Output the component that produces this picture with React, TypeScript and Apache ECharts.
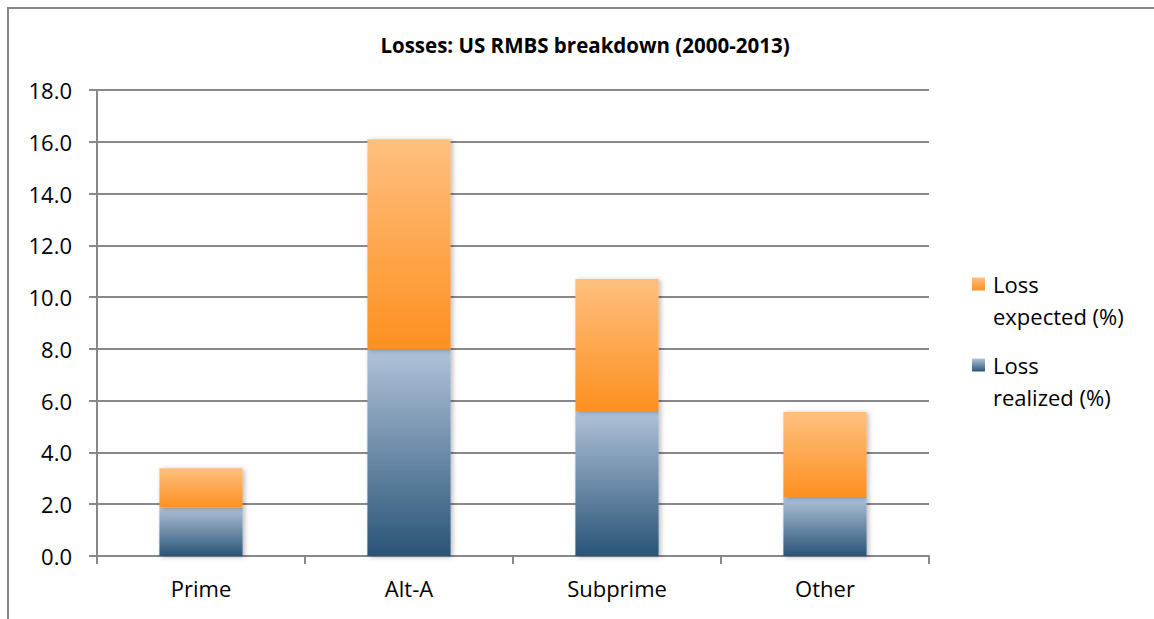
import React, { useEffect, useRef } from "react";
import * as echarts from "echarts";

const categories = ["Prime", "Alt-A", "Subprime", "Other"];
const lossRealized = [1.87, 7.98, 5.6, 2.28];
const lossExpected = [1.52, 8.12, 5.1, 3.28];
const seriesNames = ["Loss realized (%)", "Loss expected (%)"];
const titleText = "Losses: US RMBS breakdown (2000-2013)";

const FONT = "'Open Sans', 'DejaVu Sans', sans-serif";

export default function App() {
  const ref = useRef<HTMLDivElement>(null);
  useEffect(() => {
    if (!ref.current) return;
    const chart = echarts.init(ref.current, undefined, { renderer: "svg" });
    const grad = (top: string, bottom: string, end = 1) =>
      new echarts.graphic.LinearGradient(0, 0, 0, 1, [
        { offset: 0, color: top },
        { offset: end, color: bottom },
        { offset: 1, color: bottom },
      ]);
    const shadow = {
      shadowBlur: 5,
      shadowColor: "rgba(0,0,0,0.28)",
      shadowOffsetX: 2,
      shadowOffsetY: 1,
    };
    const orangeTop = "#fec07f";
    const orangeBottom = "#fd9020";
    const blueTop = "#b0c3d8";
    const blueBottom = "#2a5477";
    // square at top of a taller box so the icon lines up with the first text line
    const iconH = 45;
    const iconFrac = 13 / iconH;
    const legendIcon = `path://M0,0L1,0L1,1L0,1Z M0,${(iconH / 13).toFixed(3)}`;
    chart.setOption({
      animation: false,
      backgroundColor: "#ffffff",
      textStyle: { fontFamily: FONT },
      title: {
        text: titleText,
        left: 580,
        textAlign: "center",
        top: 29,
        textStyle: { fontFamily: FONT, fontSize: 20.5, fontWeight: "bold", color: "#000" },
      },
      grid: { left: 97, right: 225, top: 90, bottom: 63, containLabel: false },
      legend: {
        orient: "vertical",
        left: 967,
        top: 263,
        data: [
          {
            name: seriesNames[1],
            icon: legendIcon,
            itemStyle: { color: grad(orangeTop, orangeBottom, iconFrac) },
          },
          {
            name: seriesNames[0],
            icon: legendIcon,
            itemStyle: { color: grad(blueTop, blueBottom, iconFrac) },
          },
        ],
        itemWidth: 13,
        itemHeight: iconH,
        itemGap: 17,
        formatter: (n: string) => n.replace(" ", "\n"),
        textStyle: {
          fontFamily: FONT,
          fontSize: 22,
          color: "#000",
          lineHeight: 32,
          padding: [0, 0, 0, 3],
        },
      },
      xAxis: {
        type: "category",
        data: categories,
        axisLine: { lineStyle: { color: "#888", width: 2 } },
        axisTick: { show: true, length: 8, lineStyle: { color: "#888", width: 2 } },
        axisLabel: { fontFamily: FONT, fontSize: 22, color: "#000", margin: 21 },
      },
      yAxis: {
        type: "value",
        min: 0,
        max: 18,
        interval: 2,
        axisLine: { show: true, lineStyle: { color: "#888", width: 2 } },
        axisTick: { show: true, length: 8, lineStyle: { color: "#888", width: 2 } },
        splitLine: { lineStyle: { color: "#888", width: 2 } },
        axisLabel: {
          fontFamily: FONT,
          fontSize: 22,
          color: "#000",
          margin: 25,
          formatter: (v: number) => v.toFixed(1),
        },
      },
      series: [
        {
          name: seriesNames[0],
          type: "bar",
          stack: "loss",
          barWidth: "40%",
          data: lossRealized,
          itemStyle: { color: grad(blueTop, blueBottom), ...shadow },
        },
        {
          name: seriesNames[1],
          type: "bar",
          stack: "loss",
          barWidth: "40%",
          data: lossExpected,
          itemStyle: { color: grad(orangeTop, orangeBottom), ...shadow },
        },
      ],
      graphic: [
        {
          type: "rect",
          shape: { x: 8, y: 8, width: 1400, height: 900 },
          style: { fill: "none", stroke: "#888", lineWidth: 2 },
          silent: true,
          z: 100,
        },
      ],
    });
    return () => chart.dispose();
  }, []);
  return (
    <div
      ref={ref}
      style={{ position: "fixed", left: 0, top: 0, width: 1154, height: 619 }}
    />
  );
}
